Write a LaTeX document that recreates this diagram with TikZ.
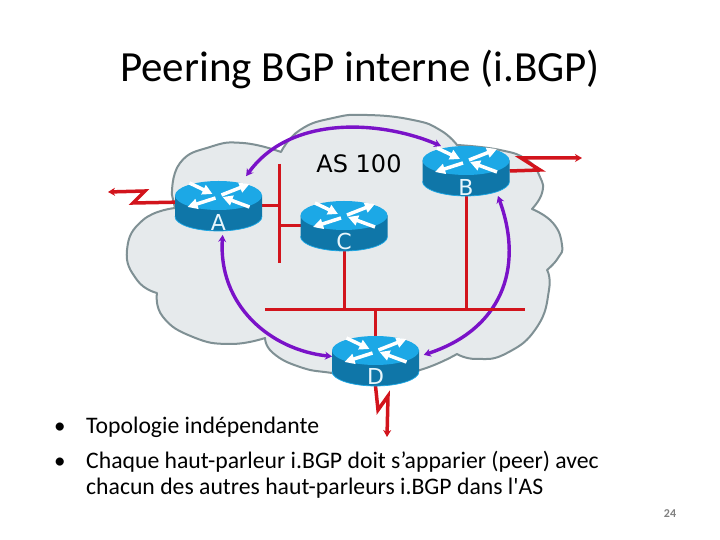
\documentclass[tikz,border=0pt]{standalone}
\usepackage{fontspec}
\setmainfont{Carlito}
\newfontfamily\labelfont{DejaVu Sans}
\usetikzlibrary{arrows.meta,calc}
\definecolor{cloudfill}{HTML}{E6EAEC}
\definecolor{cloudline}{HTML}{7F9094}
\definecolor{wirered}{HTML}{D2141C}
\definecolor{peerpurple}{HTML}{7A12C8}
\definecolor{routertop}{HTML}{1CA8E6}
\definecolor{routerside}{HTML}{0F76A8}

\begin{document}
\begin{tikzpicture}[x=1pt,y=1pt,
    cloud/.style={draw=cloudline,fill=cloudfill,line width=2pt,line join=round},
    wire/.style={wirered,line width=3pt},
    serial/.style={wirered,line width=3.5pt,-{Stealth[length=7pt,width=8pt]},line join=miter},
    peer/.style={peerpurple,line width=3.4pt,{Stealth[length=7pt,width=8pt]}-{Stealth[length=7pt,width=8pt]}},
    routeur/.style={minimum width=87pt,minimum height=50pt,inner sep=0pt,outer sep=0pt},
    routerlabel/.style={font=\labelfont\fontsize{22}{22}\selectfont,text=white!90!routertop,inner sep=0pt},
    title/.style={font=\fontsize{43}{43}\selectfont,inner sep=0pt},
    bullet/.style={font=\fontsize{23.7}{24}\selectfont,inner sep=0pt,anchor=base west}
]
\useasboundingbox[fill=white] (0,0) rectangle (720,540);

% Title
\node[title,anchor=base] (title) at (360,458) {Peering BGP interne (i.BGP)};

% Cloud
\draw[cloud] plot[smooth,tension=0.85] coordinates {(172,345)(180,377)(210,393)(243,397)(281,388)}
    -- plot[smooth,tension=0.85] coordinates {(281,388)(300,410)(333,422)(367,425)(413,420)(440,410)(457,395)}
    -- plot[smooth,tension=0.85] coordinates {(457,395)(500,390)(527,380)(540,363)(542,347)(532,331)}
    -- plot[smooth,tension=0.85] coordinates {(532,331)(553,317)(562,295)(558,282)(547,270)}
    -- plot[smooth,tension=0.85] coordinates {(547,270)(549,250)(537,213)(507,187)(477,181)(457,186)}
    -- plot[smooth,tension=0.85] coordinates {(457,186)(420,170)(375,162)(332,167)(300,173)(273,187)(265,202)}
    -- plot[smooth,tension=0.85] coordinates {(265,202)(230,196)(193,203)(163,223)(157,247)}
    -- plot[smooth,tension=0.85] coordinates {(157,247)(137,260)(127,290)(143,320)(175,332)}
    -- cycle;
\node[font=\labelfont\fontsize{24}{24}\selectfont,inner sep=0pt] (as) at (359,376) {AS 100};

% Routers
\node[routeur] (A) at (218.5,334) {};
\node[routeur] (B) at (466,369) {};
\node[routeur] (C) at (344,314) {};
\node[routeur] (D) at (375.5,179) {};

% Peering
\draw[peer,shorten <=6pt] (A.46) .. controls (290,425) and (380,420) .. (B.135);
\draw[peer,shorten <=4pt] (A.280) .. controls (218,235) and (270,190) .. (D.174);
\draw[peer,shorten >=5pt] (B.322) .. controls (525,270) and (500,210) .. (D.6);

% LAN
\coordinate (bustop) at (279,376);
\coordinate (busbot) at (279,277);
\coordinate (lanleft) at (265,230);
\coordinate (lanright) at (525,230);
\draw[wire] (bustop) -- (busbot);
\draw[wire] (lanleft) -- (lanright);
\draw[wire] (A.east) -- (A.east -| bustop);
\draw[wire] (C.west) -- (C.west -| bustop);
\draw[wire] (C.south) -- (C.south |- lanleft);
\draw[wire] (B.south) -- (B.south |- lanleft);
\draw[wire] (D.north) -- (D.north |- lanleft);

% Serial links
\coordinate (exta) at (108,348);
\coordinate (extb) at (582,382);
\coordinate (extd) at (387,103);
\draw[serial] (A.175) -- (133,337) -- (145,349) -- (exta);
\draw[serial] (B.east) -- (540,370) -- (521,382) -- (extb);
\draw[serial] (D.south) -- (378,130) -- (388,144) -- (extd);

% Router bodies
\foreach \n/\dy in {A/-16,B/-16,C/-15,D/-15} {
    \fill[routerside] ($(\n)+(-43.5,10.5)$) -- ($(\n)+(-43.5,-10.5)$) arc[start angle=180,end angle=360,x radius=43.5,y radius=14.5]
        -- ($(\n)+(43.5,10.5)$) -- cycle;
    \draw[routertop,line width=0.7pt] ($(\n)+(-43.5,-10.5)$) arc[start angle=180,end angle=360,x radius=43.5,y radius=14.5];
    \fill[routertop] ($(\n)+(0,10.5)$) ellipse[x radius=43.5,y radius=14.5];
    \foreach \xa/\ya/\xb/\yb in {-29/23/-6/12,3/11/31/22,-3/8/-31/-1,31/-1/4/9} {
        \draw[white,line width=3.5pt,-{Triangle[length=10pt,width=10pt]}] ($(\n)+(\xa,\ya)$) -- ($(\n)+(\xb,\yb)$);
    }
    \node[routerlabel] (lab\n) at ($(\n)+(0,\dy)$) {\n};
}

% Text
\node[bullet] (dot1) at (54,106) {\fontsize{23}{23}\selectfont\textbullet};
\node[bullet] (line1) at (86,106) {Topologie indépendante};
\node[bullet] (dot2) at (54,71) {\fontsize{23}{23}\selectfont\textbullet};
\node[bullet] (line2) at (86,71) {Chaque haut-parleur i.BGP doit s’apparier (peer) avec};
\node[bullet] (line3) at (86,45) {chacun des autres haut-parleurs i.BGP dans l\textquotesingle AS};
\node[font=\bfseries\fontsize{12}{12}\selectfont,text=gray,inner sep=0pt] (page) at (670,26) {24};
\end{tikzpicture}
\end{document}
